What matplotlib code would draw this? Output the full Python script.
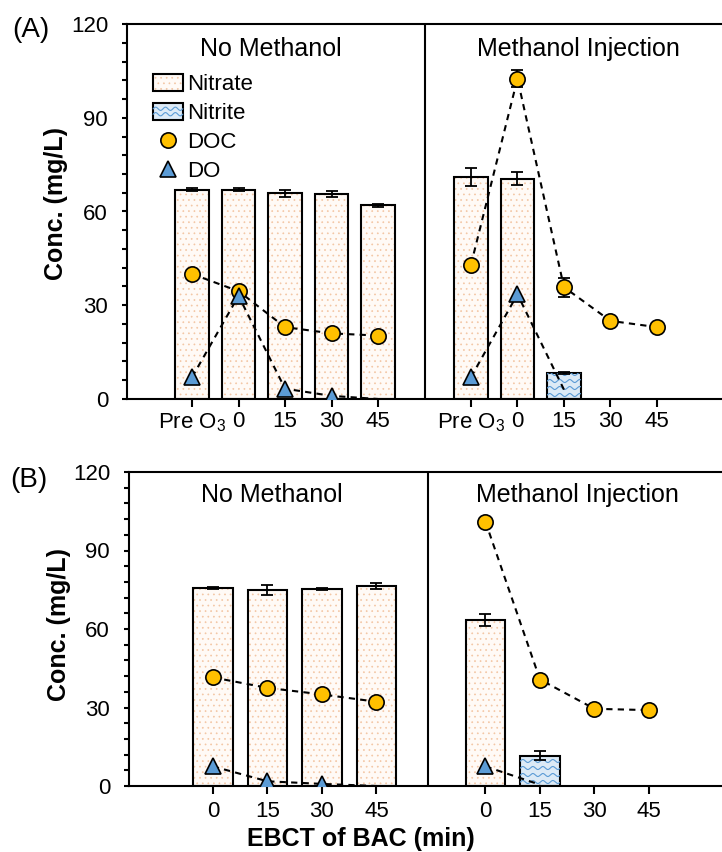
import matplotlib
matplotlib.use("Agg")
import matplotlib.pyplot as plt
import numpy as np
from matplotlib.patches import Rectangle
from matplotlib.lines import Line2D
from matplotlib.legend_handler import HandlerBase, HandlerTuple

plt.rcParams['font.family'] = ['Liberation Sans', 'DejaVu Sans']
plt.rcParams['hatch.linewidth'] = 0.5

nan = np.nan

# ---- panel A data (Pre O3, 0, 15, 30, 45) ----
a_labels = ['Pre O$_{\\mathregular{3}}$', '0', '15', '30', '45']
a_nitrate_no = [67.0, 67.0, 65.8, 65.6, 62.0]
a_nitrate_no_err = [0.4, 0.6, 1.1, 0.9, 0.5]
a_nitrate_inj = [71.0, 70.5, nan, nan, nan]
a_nitrate_inj_err = [2.8, 2.0, nan, nan, nan]
a_nitrite_inj = [nan, nan, 8.3, nan, nan]
a_nitrite_inj_err = [nan, nan, 0.3, nan, nan]
a_doc_no = [40.0, 34.5, 23.0, 21.0, 20.3]
a_doc_no_err = [0.5, 0.5, 0.5, 0.5, 0.5]
a_doc_inj = [43.0, 102.5, 35.8, 25.0, 23.0]
a_doc_inj_err = [0.5, 2.8, 3.0, 0.5, 0.5]
a_do_no = [7.0, 33.0, 3.3, 1.0, 0.0]
a_do_inj = [7.0, 33.5, 3.0, nan, nan]

# ---- panel B data (0, 15, 30, 45) ----
b_labels = ['0', '15', '30', '45']
b_nitrate_no = [75.7, 74.9, 75.3, 76.4]
b_nitrate_no_err = [0.5, 2.0, 0.4, 1.0]
b_nitrate_inj = [63.5, nan, nan, nan]
b_nitrate_inj_err = [2.2, nan, nan, nan]
b_nitrite_inj = [nan, 11.5, nan, nan]
b_nitrite_inj_err = [nan, 1.7, nan, nan]
b_doc_no = [41.5, 37.5, 35.0, 32.2]
b_doc_no_err = [0.5, 0.5, 0.5, 0.5]
b_doc_inj = [101.0, 40.7, 29.5, 29.0]
b_doc_inj_err = [0.5, 0.5, 0.5, 1.5]
b_do_no = [7.5, 1.8, 0.8, 0.0]
b_do_inj = [7.5, 0.5, nan, nan]

NITRATE_FACE = '#FFFAF6'
DOT = '#F3C6A4'
NITRITE_FACE = '#DCEAF6'
WAVE = '#5B9BD5'
GOLD = '#FFC000'
BLUE = '#5B9BD5'
W = 0.72
TICK_FS = 16
TITLE_FS = 18
LABEL_FS = 18

fig = plt.figure(figsize=(7.22, 8.52), dpi=100)


def px_axes(l, t, r, b):
    return fig.add_axes([l / 722, 1 - b / 852, (r - l) / 722, (b - t) / 852])


def setup(ax, xlim, ticks, labels, divider, xpad):
    ax.set_xlim(*xlim)
    ax.set_ylim(0, 120)
    ax.set_yticks(np.arange(0, 121, 30))
    ax.set_yticks(np.arange(0, 121, 6), minor=True)
    ax.set_xticks(ticks, labels)
    ax.tick_params(axis='y', which='both', direction='out', length=3.6, width=1.5,
                   labelsize=TICK_FS, pad=10)
    ax.tick_params(axis='x', direction='out', length=5.6, width=1.5, labelsize=TICK_FS, pad=xpad)
    for s in ['left', 'bottom', 'top']:
        ax.spines[s].set_linewidth(1.5)
    ax.spines['right'].set_visible(False)
    ax.axvline(divider, color='black', lw=1.5, zorder=1)
    ax.set_ylabel('Conc. (mg/L)', fontsize=LABEL_FS, fontweight='bold')


def nitrate_bars(ax, x, h, err):
    h = np.asarray(h, float)
    err = np.asarray(err, float)
    m = ~np.isnan(h)
    ax.bar(x[m], h[m], width=W, color=NITRATE_FACE, edgecolor=DOT, hatch='...', lw=0, zorder=2)
    ax.bar(x[m], h[m], width=W, fill=False, edgecolor='black', lw=1.5, zorder=3)
    ax.errorbar(x[m], h[m], yerr=err[m], fmt='none', ecolor='black', elinewidth=1.3,
                capsize=4, capthick=1.3, zorder=3.5)


def nitrite_bars(ax, x, h, err):
    h = np.asarray(h, float)
    err = np.asarray(err, float)
    m = ~np.isnan(h)
    bars = ax.bar(x[m], h[m], width=W, color=NITRITE_FACE, edgecolor='black', lw=1.5, zorder=2)
    # wavy fill pattern, drawn in pixel space and clipped to each bar
    for p in bars:
        (x0, y0), (x1, y1) = ax.transData.transform(
            [[p.get_x(), p.get_y()], [p.get_x() + p.get_width(), p.get_y() + p.get_height()]])
        xs = np.linspace(x0, x1, 200)
        for yc in np.arange(y0 + 4, y1, 7):
            ys = yc + 1.5 * np.sin(2 * np.pi * (xs - x0) / 10)
            pts = ax.transData.inverted().transform(np.column_stack([xs, ys]))
            ln, = ax.plot(pts[:, 0], pts[:, 1], color=WAVE, lw=0.8, zorder=2.5)
            ln.set_clip_path(p)
    ax.errorbar(x[m], h[m], yerr=err[m], fmt='none', ecolor='black', elinewidth=1.3,
                capsize=4, capthick=1.3, zorder=3.5)


def series(ax, x, y, yerr, color, marker, hide=()):
    y = np.asarray(y, float)
    m = ~np.isnan(y)
    ax.plot(x[m], y[m], ls='--', dashes=(3, 2.5), color='black', lw=1.5, zorder=4)
    if yerr is not None:
        e = np.asarray(yerr, float)
        ax.errorbar(x[m], y[m], yerr=e[m], fmt='none', ecolor='black', elinewidth=1.3,
                    capsize=4, capthick=1.3, zorder=4.5)
    show = m.copy()
    for i in hide:
        show[i] = False
    ax.plot(x[show], y[show], ls='none', marker=marker, ms=11, mfc=color, mec='black',
            mew=1.2, zorder=6)


class WaveHandler(HandlerBase):
    def create_artists(self, legend, orig_handle, xdescent, ydescent, width, height,
                       fontsize, trans):
        arts = [Rectangle((-xdescent, -ydescent), width, height, facecolor=NITRITE_FACE,
                          edgecolor='black', lw=1.5, transform=trans)]
        xs = np.linspace(-xdescent, -xdescent + width, 60)
        for k in (1, 2):
            yc = -ydescent + height * k / 3
            ys = yc + height * 0.1 * np.sin(2 * np.pi * (xs + xdescent) / (width / 3))
            arts.append(Line2D(xs, ys, color=WAVE, lw=0.8, transform=trans))
        return arts


# ---------------- panel A ----------------
axA = px_axes(127, 24, 722, 399)
a_no = np.arange(1, 6)
a_inj = np.arange(7, 12)
setup(axA, (-0.40, 12.4), np.concatenate([a_no, a_inj]), a_labels + a_labels, 6, 3.0)
nitrate_bars(axA, a_no, a_nitrate_no, a_nitrate_no_err)
nitrate_bars(axA, a_inj, a_nitrate_inj, a_nitrate_inj_err)
nitrite_bars(axA, a_inj, a_nitrite_inj, a_nitrite_inj_err)
series(axA, a_no, a_doc_no, a_doc_no_err, GOLD, 'o')
series(axA, a_inj, a_doc_inj, a_doc_inj_err, GOLD, 'o')
series(axA, a_no, a_do_no, None, BLUE, '^', hide=[4])
series(axA, a_inj, a_do_inj, None, BLUE, '^', hide=[2])
axA.text(0.242, 0.933, 'No Methanol', transform=axA.transAxes, ha='center', va='center', fontsize=TITLE_FS)
axA.text(0.758, 0.933, 'Methanol Injection', transform=axA.transAxes, ha='center', va='center', fontsize=TITLE_FS)
axA.yaxis.set_label_coords(-0.099, 0.52)

h_nitrate = (Rectangle((0, 0), 1, 1, facecolor=NITRATE_FACE, edgecolor=DOT, hatch='...', lw=0),
             Rectangle((0, 0), 1, 1, fill=False, edgecolor='black', lw=1.5))
h_nitrite = Rectangle((0, 0), 1, 1)
h_doc = Line2D([], [], ls='none', marker='o', ms=11, mfc=GOLD, mec='black', mew=1.2)
h_do = Line2D([], [], ls='none', marker='^', ms=11, mfc=BLUE, mec='black', mew=1.2)
axA.legend([h_nitrate, h_nitrite, h_doc, h_do], ['Nitrate', 'Nitrite', 'DOC', 'DO'],
           handler_map={tuple: HandlerTuple(ndivide=1), h_nitrite: WaveHandler()},
           loc='upper left', bbox_to_anchor=(0.044, 0.866), frameon=False, fontsize=16,
           borderpad=0, borderaxespad=0, handlelength=1.33, handleheight=0.75,
           handletextpad=0.2, labelspacing=0.36)

# ---------------- panel B ----------------
axB = px_axes(129, 472, 722, 786)
b_no = np.arange(1, 5)
b_inj = np.arange(6, 10)
setup(axB, (-0.54, 10.34), np.concatenate([b_no, b_inj]), b_labels + b_labels, 4.95, 5.5)
nitrate_bars(axB, b_no, b_nitrate_no, b_nitrate_no_err)
nitrate_bars(axB, b_inj, b_nitrate_inj, b_nitrate_inj_err)
nitrite_bars(axB, b_inj, b_nitrite_inj, b_nitrite_inj_err)
series(axB, b_no, b_doc_no, b_doc_no_err, GOLD, 'o')
series(axB, b_inj, b_doc_inj, b_doc_inj_err, GOLD, 'o')
series(axB, b_no, b_do_no, None, BLUE, '^', hide=[3])
series(axB, b_inj, b_do_inj, None, BLUE, '^', hide=[1])
axB.text(0.241, 0.927, 'No Methanol', transform=axB.transAxes, ha='center', va='center', fontsize=TITLE_FS)
axB.text(0.757, 0.927, 'Methanol Injection', transform=axB.transAxes, ha='center', va='center', fontsize=TITLE_FS)
axB.yaxis.set_label_coords(-0.098, 0.514)

fig.text(12 / 722, 1 - 30 / 852, '(A)', fontsize=20, ha='left', va='center')
fig.text(10 / 722, 1 - 480 / 852, '(B)', fontsize=20, ha='left', va='center')
fig.text(361 / 722, 1 - 846 / 852, 'EBCT of BAC (min)', fontsize=LABEL_FS, fontweight='bold',
         ha='center', va='baseline')

fig.savefig('out.png', dpi=100)
